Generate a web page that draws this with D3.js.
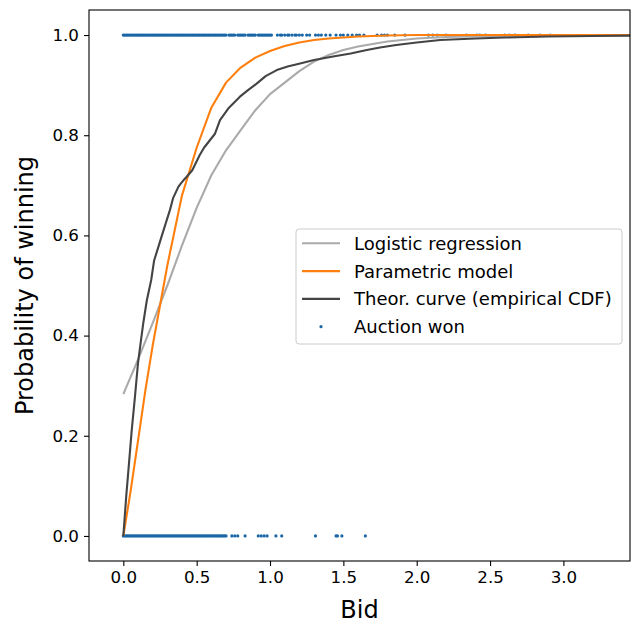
<!DOCTYPE html>
<html>
<head>
<meta charset="utf-8">
<script src="https://cdn.jsdelivr.net/npm/d3@7"></script>
<style>
  body { margin: 0; background: #fff; }
  text { font-family: "DejaVu Sans", sans-serif; fill: #000; }
</style>
</head>
<body>
<div id="wrapper"></div>
<script>
// Values
const logisticX = [0, 0.1, 0.2, 0.3, 0.4, 0.5, 0.6, 0.7, 0.8, 0.9, 1.0, 1.1, 1.2, 1.3, 1.4, 1.5, 1.6, 1.8, 2.0, 2.2, 2.5, 2.8, 3.2, 3.5];
const logisticY = [0.283, 0.352, 0.425, 0.50, 0.58, 0.655, 0.72, 0.77, 0.81, 0.85, 0.882, 0.905, 0.928, 0.947, 0.96, 0.97, 0.977, 0.987, 0.993, 0.996, 0.998, 0.999, 1.0, 1.0];

const paramX = [0, 0.05, 0.1, 0.15, 0.2, 0.25, 0.3, 0.4, 0.5, 0.6, 0.7, 0.8, 0.9, 1.0, 1.1, 1.2, 1.3, 1.4, 1.6, 1.8, 2.0, 2.5, 3.0, 3.5];
const paramY = [0, 0.09, 0.19, 0.29, 0.38, 0.46, 0.54, 0.68, 0.775, 0.855, 0.905, 0.935, 0.955, 0.968, 0.978, 0.985, 0.99, 0.993, 0.997, 0.999, 1.0, 1.0, 1.0, 1.0];

const ecdfX = [0, 0.02, 0.04, 0.057, 0.08, 0.10, 0.12, 0.136, 0.16, 0.19, 0.21, 0.24, 0.26, 0.29, 0.318, 0.34, 0.375, 0.39, 0.41, 0.432, 0.47, 0.52, 0.55, 0.59, 0.625, 0.659, 0.72, 0.795, 0.85, 0.909, 0.97, 1.046, 1.12, 1.205, 1.3, 1.43, 1.55, 1.66, 1.75, 1.86, 2.0, 2.16, 2.4, 2.6, 2.89, 3.2, 3.5];
const ecdfY = [0, 0.08, 0.15, 0.21, 0.28, 0.345, 0.39, 0.425, 0.47, 0.511, 0.55, 0.578, 0.597, 0.625, 0.651, 0.675, 0.697, 0.703, 0.71, 0.717, 0.73, 0.76, 0.775, 0.79, 0.803, 0.83, 0.855, 0.877, 0.89, 0.903, 0.918, 0.93, 0.937, 0.943, 0.95, 0.957, 0.963, 0.97, 0.975, 0.98, 0.985, 0.99, 0.993, 0.995, 0.997, 0.998, 0.999];

// Bids of won auctions (plotted at 1) and lost auctions (plotted at 0)
const wonBids = [0.00,0.01,0.02,0.03,0.04,0.05,0.06,0.07,0.08,0.09,0.10,0.11,0.12,0.13,0.14,0.15,0.16,0.17,0.18,0.19,
  0.20,0.21,0.22,0.23,0.24,0.25,0.26,0.27,0.28,0.29,0.30,0.31,0.32,0.33,0.34,0.35,0.36,0.37,0.38,0.39,
  0.40,0.41,0.42,0.43,0.44,0.45,0.46,0.47,0.48,0.49,0.50,0.51,0.52,0.53,0.54,0.55,0.56,0.57,0.58,0.59,
  0.60,0.61,0.62,0.63,0.64,0.65,0.66,0.67,0.68,0.69,0.70,0.72,0.73,0.74,0.75,0.76,0.78,0.79,0.80,0.81,
  0.82,0.83,0.85,0.86,0.87,0.88,0.89,0.90,0.92,0.93,0.94,0.95,0.96,0.97,0.98,0.99,1.00,1.01,
  1.05,1.07,1.08,1.10,1.12,1.13,1.15,1.17,1.18,1.20,1.22,1.25,1.27,1.31,1.33,1.35,1.38,1.41,
  1.45,1.48,1.50,1.53,1.56,1.59,1.61,1.64,1.73,1.76,1.78,1.80,1.85,1.92,2.08,2.11,2.14,2.20,
  2.34,2.41,2.43,2.47,2.60,2.63,2.67,2.76,2.84,2.91];
const lostBids = [0.00,0.01,0.02,0.03,0.04,0.05,0.06,0.07,0.08,0.09,0.10,0.11,0.12,0.13,0.14,0.15,0.16,0.17,0.18,0.19,
  0.20,0.21,0.22,0.23,0.24,0.25,0.26,0.27,0.28,0.29,0.30,0.31,0.32,0.33,0.34,0.35,0.36,0.37,0.38,0.39,
  0.40,0.41,0.42,0.43,0.44,0.45,0.46,0.47,0.48,0.49,0.50,0.51,0.52,0.53,0.54,0.55,0.56,0.57,0.58,0.59,
  0.60,0.61,0.62,0.63,0.64,0.65,0.66,0.67,0.68,0.69,0.70,0.74,0.76,0.78,0.83,0.92,0.94,0.96,0.98,
  1.04,1.08,1.31,1.45,1.46,1.49,1.65];

const xTicks = [0, 0.5, 1.0, 1.5, 2.0, 2.5, 3.0];
const yTicks = [0, 0.2, 0.4, 0.6, 0.8, 1.0];

const legendItems = [
  {label: "Logistic regression", color: "#aaaaaa", type: "line"},
  {label: "Parametric model", color: "#ff7f0e", type: "line"},
  {label: "Theor. curve (empirical CDF)", color: "#444444", type: "line"},
  {label: "Auction won", color: "#1a66a6", type: "dot"}
];

const W = 633, H = 624;
const svg = d3.select("#wrapper").append("svg")
  .attr("width", W).attr("height", H);

const x = d3.scaleLinear().domain([-0.234, 3.454]).range([89, 630]);
const y = d3.scaleLinear().domain([-0.05, 1.05]).range([561, 10]);

svg.append("clipPath").attr("id", "plotclip")
  .append("rect").attr("x", 89).attr("y", 10).attr("width", 541).attr("height", 551);

const plot = svg.append("g").attr("clip-path", "url(#plotclip)");

// scatter of outcomes
plot.append("g").selectAll("circle.won")
  .data(wonBids).enter().append("circle")
  .attr("cx", d => x(d)).attr("cy", y(1)).attr("r", 1.6)
  .style("fill", "#1a66a6");
plot.append("g").selectAll("circle.lost")
  .data(lostBids).enter().append("circle")
  .attr("cx", d => x(d)).attr("cy", y(0)).attr("r", 1.6)
  .style("fill", "#1a66a6");

const line = d3.line().x(d => x(d[0])).y(d => y(d[1]));
const drawCurve = (xs, ys, color) => {
  plot.append("path")
    .attr("d", line(d3.zip(xs, ys)))
    .attr("fill", "none")
    .attr("stroke", color)
    .attr("stroke-width", 2.1)
    .attr("stroke-linejoin", "round");
};
drawCurve(logisticX, logisticY, "#aaaaaa");
drawCurve(paramX, paramY, "#ff7f0e");
drawCurve(ecdfX, ecdfY, "#444444");

// axes
const xAxis = d3.axisBottom(x).tickValues(xTicks).tickFormat(d3.format(".1f")).tickSize(5).tickPadding(5);
const yAxis = d3.axisLeft(y).tickValues(yTicks).tickFormat(d3.format(".1f")).tickSize(5).tickPadding(5);

const gx = svg.append("g").attr("transform", "translate(0,561)").call(xAxis);
const gy = svg.append("g").attr("transform", "translate(89,0)").call(yAxis);
[gx, gy].forEach(g => {
  g.select(".domain").remove();
  g.selectAll(".tick line").attr("stroke", "#000").attr("stroke-width", 1.1);
  g.selectAll(".tick text").style("font-size", "16.7px").style("font-family", "DejaVu Sans");
});

// frame
svg.append("rect")
  .attr("x", 89).attr("y", 10).attr("width", 541).attr("height", 551)
  .attr("fill", "none").attr("stroke", "#000").attr("stroke-width", 1.1);

// axis labels
svg.append("text")
  .attr("x", 359.5).attr("y", 618)
  .attr("text-anchor", "middle")
  .style("font-size", "24px")
  .text("Bid");
svg.append("text")
  .attr("transform", "translate(33,285.5) rotate(-90)")
  .attr("text-anchor", "middle")
  .style("font-size", "24px")
  .text("Probability of winning");

// legend
const legend = svg.append("g");
legend.append("rect")
  .attr("x", 296).attr("y", 229).attr("width", 326).attr("height", 115)
  .attr("rx", 3)
  .attr("fill", "#fff").attr("fill-opacity", 0.8)
  .attr("stroke", "#cccccc").attr("stroke-width", 1);
legendItems.forEach((item, i) => {
  const ry = 243.3 + i * 27.8;
  if (item.type == "line") {
    legend.append("line")
      .attr("x1", 302).attr("x2", 340).attr("y1", ry).attr("y2", ry)
      .attr("stroke", item.color).attr("stroke-width", 2.1);
  } else {
    legend.append("circle")
      .attr("cx", 321).attr("cy", ry).attr("r", 1.6)
      .style("fill", item.color);
  }
  legend.append("text")
    .attr("x", 354).attr("y", ry)
    .attr("dominant-baseline", "central")
    .style("font-size", "18px")
    .text(item.label);
});
</script>
</body>
</html>
